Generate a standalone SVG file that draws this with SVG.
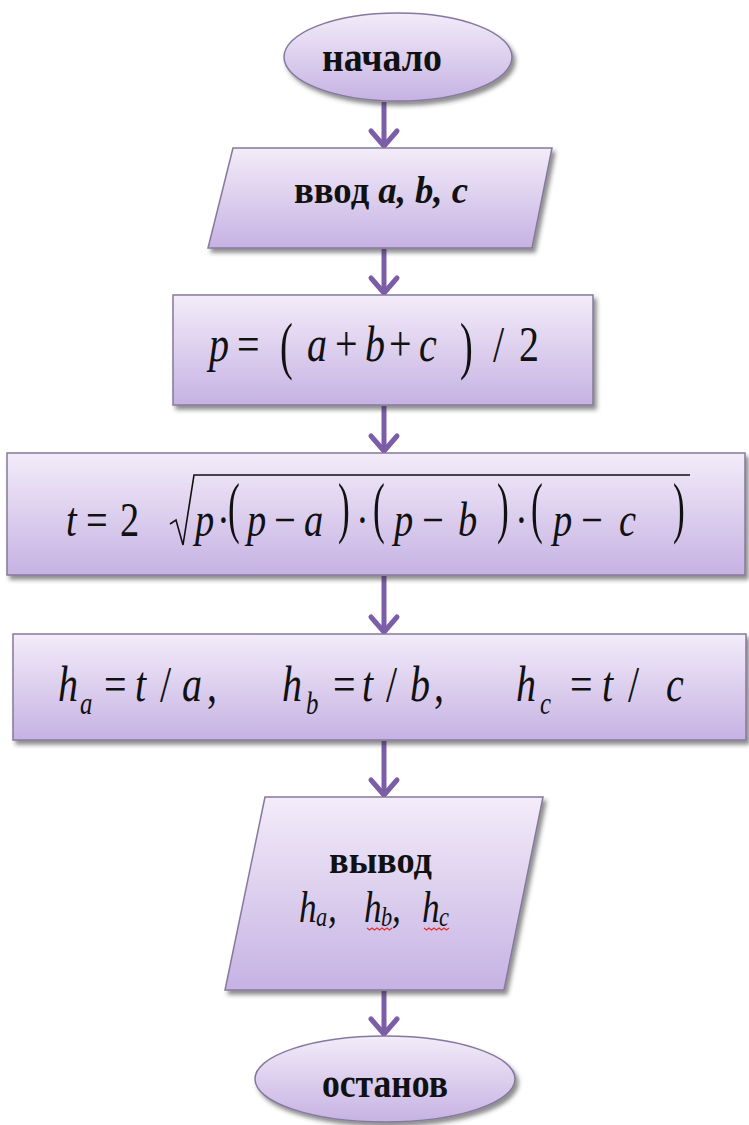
<svg xmlns="http://www.w3.org/2000/svg" width="749" height="1125" viewBox="0 0 749 1125">
<defs>
<linearGradient id="fillg" x1="0" y1="0" x2="0" y2="1">
<stop offset="0" stop-color="#f3ecf9"/>
<stop offset="1" stop-color="#c6b2e3"/>
</linearGradient>
<filter id="sh" x="-10%" y="-10%" width="125%" height="130%">
<feDropShadow dx="3" dy="4" stdDeviation="2" flood-color="#333" flood-opacity="0.55"/>
</filter>
<marker id="ah" markerUnits="userSpaceOnUse" markerWidth="40" markerHeight="40" refX="0" refY="0" orient="auto" overflow="visible">
<path d="M-15,-13 L0,0 L-15,13" fill="none" stroke="#7b5ea7" stroke-width="5" stroke-linecap="round" stroke-linejoin="round"/>
</marker>
</defs>
<style>
.shape{fill:url(#fillg);stroke:#85799c;stroke-width:1.5;filter:url(#sh)}
.lbl{font-family:"Liberation Serif","Times New Roman",serif;font-weight:bold;fill:#111}
.m{font-family:"Liberation Serif","Times New Roman",serif;font-style:italic;fill:#111}
.r{font-family:"Liberation Serif","Times New Roman",serif;fill:#111}
.f1{font-size:50px}
.f2{font-size:48px}
.f3{font-size:50px}
.s3{font-size:31px}
.pb{font-size:64px}
.pt{font-size:68px}
.f4{font-size:44px}
.s4{font-size:28px}
.conn line{stroke:#7b5ea7;stroke-width:5;marker-end:url(#ah)}
.wave{fill:none;stroke:#e03030;stroke-width:1.2}
</style>
<rect width="749" height="1125" fill="#ffffff"/>

<g class="conn" id="connectors">
<line x1="384" y1="102" x2="384" y2="146"/>
<line x1="384" y1="249" x2="384" y2="293"/>
<line x1="384" y1="406" x2="384" y2="451"/>
<line x1="384" y1="576" x2="384" y2="632"/>
<line x1="384" y1="741" x2="384" y2="795"/>
<line x1="384" y1="991" x2="384" y2="1034"/>
</g>

<g id="start">
<ellipse class="shape" cx="398" cy="57" rx="114" ry="44"/>
<text class="lbl" x="322" y="71" font-size="42" textLength="120" lengthAdjust="spacingAndGlyphs">начало</text>
</g>

<g id="input">
<polygon class="shape" points="233,148 552,148 532,248 208,248"/>
<text class="lbl" x="294" y="203" font-size="37" textLength="174" lengthAdjust="spacingAndGlyphs">ввод <tspan font-style="italic">a, b, c</tspan></text>
</g>

<g id="calc-p">
<rect class="shape" x="173" y="295" width="420" height="110"/>
<text class="m f1" transform="translate(209,361) scale(.8,1)">p</text>
<text class="r f1" transform="translate(237,361) scale(.8,1)">=</text>
<text class="r pb" transform="translate(280,367) scale(.6,1)">(</text>
<text class="m f1" transform="translate(307,361) scale(.8,1)">a</text>
<text class="r f1" transform="translate(335,361) scale(.8,1)">+</text>
<text class="m f1" transform="translate(365,361) scale(.8,1)">b</text>
<text class="r f1" transform="translate(389,361) scale(.8,1)">+</text>
<text class="m f1" transform="translate(419,361) scale(.8,1)">c</text>
<text class="r pb" transform="translate(460,367) scale(.6,1)">)</text>
<text class="r f1" transform="translate(493,361) scale(.8,1)">/</text>
<text class="r f1" transform="translate(519,361) scale(.8,1)">2</text>
</g>

<g id="calc-t">
<rect class="shape" x="7" y="453" width="738" height="122"/>
<text class="m f2" transform="translate(66,536) scale(.8,1)">t</text>
<text class="r f2" transform="translate(86,536) scale(.8,1)">=</text>
<text class="r f2" transform="translate(120,536) scale(.8,1)">2</text>
<path d="M170,524 L176,520 L183,545 L194,475 L690,475" fill="none" stroke="#111" stroke-width="1.6"/>
<text class="m f2" transform="translate(195,536) scale(.8,1)">p</text>
<text class="r f2" transform="translate(217,536) scale(.8,1)">·</text>
<text class="r pt" transform="translate(228,530) scale(.52,1)">(</text>
<text class="m f2" transform="translate(247,536) scale(.8,1)">p</text>
<text class="r f2" transform="translate(274,536) scale(.8,1)">−</text>
<text class="m f2" transform="translate(304,536) scale(.8,1)">a</text>
<text class="r pt" transform="translate(338,530) scale(.52,1)">)</text>
<text class="r f2" transform="translate(356,536) scale(.8,1)">·</text>
<text class="r pt" transform="translate(373,530) scale(.52,1)">(</text>
<text class="m f2" transform="translate(394,536) scale(.8,1)">p</text>
<text class="r f2" transform="translate(422,536) scale(.8,1)">−</text>
<text class="m f2" transform="translate(458,536) scale(.8,1)">b</text>
<text class="r pt" transform="translate(497,530) scale(.52,1)">)</text>
<text class="r f2" transform="translate(515,536) scale(.8,1)">·</text>
<text class="r pt" transform="translate(531,530) scale(.52,1)">(</text>
<text class="m f2" transform="translate(553,536) scale(.8,1)">p</text>
<text class="r f2" transform="translate(581,536) scale(.8,1)">−</text>
<text class="m f2" transform="translate(619,536) scale(.8,1)">c</text>
<text class="r pt" transform="translate(673,530) scale(.52,1)">)</text>
</g>

<g id="calc-h">
<rect class="shape" x="13" y="634" width="733" height="106"/>
<text class="m f3" transform="translate(58,701) scale(.8,1)">h</text>
<text class="m s3" transform="translate(80,714) scale(.8,1)">a</text>
<text class="r f3" transform="translate(104,701) scale(.8,1)">=</text>
<text class="m f3" transform="translate(135,701) scale(.8,1)">t</text>
<text class="r f3" transform="translate(160,701) scale(.8,1)">/</text>
<text class="m f3" transform="translate(182,701) scale(.8,1)">a</text>
<text class="r f3" transform="translate(207,701) scale(.8,1)">,</text>
<text class="m f3" transform="translate(282,701) scale(.8,1)">h</text>
<text class="m s3" transform="translate(306,714) scale(.8,1)">b</text>
<text class="r f3" transform="translate(333,701) scale(.8,1)">=</text>
<text class="m f3" transform="translate(362,701) scale(.8,1)">t</text>
<text class="r f3" transform="translate(386,701) scale(.8,1)">/</text>
<text class="m f3" transform="translate(410,701) scale(.8,1)">b</text>
<text class="r f3" transform="translate(434,701) scale(.8,1)">,</text>
<text class="m f3" transform="translate(516,701) scale(.8,1)">h</text>
<text class="m s3" transform="translate(540,714) scale(.8,1)">c</text>
<text class="r f3" transform="translate(570,701) scale(.8,1)">=</text>
<text class="m f3" transform="translate(602,701) scale(.8,1)">t</text>
<text class="r f3" transform="translate(628,701) scale(.8,1)">/</text>
<text class="m f3" transform="translate(666,701) scale(.8,1)">c</text>
</g>

<g id="output">
<polygon class="shape" points="265,797 543,797 504,990 225,990"/>
<text class="lbl" x="329" y="873" font-size="38" textLength="103" lengthAdjust="spacingAndGlyphs">вывод</text>
<text class="m f4" transform="translate(299,922) scale(.8,1)">h</text>
<text class="m s4" transform="translate(316,926) scale(.8,1)">a</text>
<text class="m f4" transform="translate(328,922) scale(.8,1)">,</text>
<text class="m f4" transform="translate(364,922) scale(.8,1)">h</text>
<text class="m s4" transform="translate(381,926) scale(.8,1)">b</text>
<text class="m f4" transform="translate(392,922) scale(.8,1)">,</text>
<text class="m f4" transform="translate(422,922) scale(.8,1)">h</text>
<text class="m s4" transform="translate(439,926) scale(.8,1)">c</text>
<path class="wave" d="M367,928 l2.5,2 l2.5,-2 l2.5,2 l2.5,-2 l2.5,2 l2.5,-2 l2.5,2 l2.5,-2 l2.5,2 l2.5,-2"/>
<path class="wave" d="M424,928 l2.5,2 l2.5,-2 l2.5,2 l2.5,-2 l2.5,2 l2.5,-2 l2.5,2 l2.5,-2 l2.5,2 l2.5,-2"/>
</g>

<g id="stop">
<ellipse class="shape" cx="385" cy="1079" rx="130" ry="43"/>
<text class="lbl" x="322" y="1097" font-size="42" textLength="126" lengthAdjust="spacingAndGlyphs">останов</text>
</g>
</svg>
